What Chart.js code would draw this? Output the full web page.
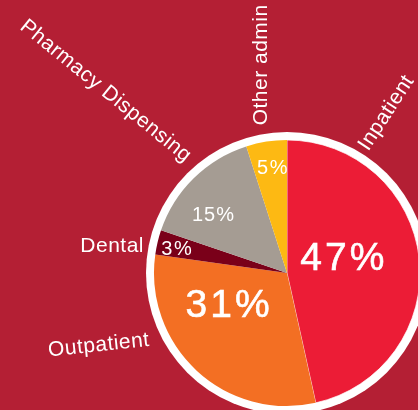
<!DOCTYPE html>
<html>
<head>
<meta charset="utf-8">
<script src="https://cdn.jsdelivr.net/npm/chart.js@4"></script>
<style>
  html, body { margin: 0; padding: 0; background: #b41f34; }
  #wrap { width: 418px; height: 410px; }
</style>
</head>
<body>
<div id="wrap"><canvas id="pieChart" width="418" height="410"></canvas></div>
<script>
const categories = ["Inpatient", "Outpatient", "Dental", "Pharmacy Dispensing", "Other admin"];
const shares = [47, 31, 3, 15, 5];
const sliceColors = ["#ec1c36", "#f36f23", "#7a0019", "#a59c93", "#fdb913"];

// where the texts sit: angle in degrees clockwise from top, radius in px from the centre
const pctPlace = [
  { angle: 76, r: 57, size: 39, spacing: 3, weight: 0.6 },
  { angle: 241, r: 68, size: 39, spacing: 3, weight: 0.6 },
  { angle: 282, r: 113, size: 20, spacing: 1.5, weight: 0 },
  { angle: 308, r: 94, size: 20, spacing: 1, weight: 0 },
  { angle: 352, r: 106, size: 20, spacing: 1.5, weight: 0 }
];
const namePlace = [
  { angle: 33.8, r: 146, rot: -57, align: "left" },
  { angle: 242, r: 155, rot: -6, align: "right" },
  { angle: 278.3, r: 144.5, rot: 0, align: "right" },
  { angle: 317.2, r: 150, rot: 39, align: "right" },
  { angle: 352.3, r: 149, rot: -90, align: "left" }
];

function polar(cx, cy, deg, r) {
  const a = (deg - 90) * Math.PI / 180;
  return [cx + r * Math.cos(a), cy + r * Math.sin(a)];
}

const ringPlugin = {
  id: "ring",
  beforeDatasetsDraw(chart) {
    const arc = chart.getDatasetMeta(0).data[0];
    const ctx = chart.ctx;
    ctx.save();
    ctx.fillStyle = "#ffffff";
    ctx.beginPath();
    ctx.arc(arc.x, arc.y, arc.outerRadius + 8, 0, Math.PI * 2);
    ctx.fill();
    ctx.restore();
  }
};

const textPlugin = {
  id: "texts",
  afterDatasetsDraw(chart) {
    const ctx = chart.ctx;
    const arcs = chart.getDatasetMeta(0).data;
    const cx = arcs[0].x, cy = arcs[0].y;
    ctx.save();
    ctx.fillStyle = "#ffffff";
    ctx.strokeStyle = "#ffffff";
    shares.forEach((v, i) => {
      const p = pctPlace[i];
      const [x, y] = polar(cx, cy, p.angle, p.r);
      ctx.font = p.size + "px 'Liberation Sans', Arial, sans-serif";
      ctx.letterSpacing = p.spacing + "px";
      ctx.textAlign = "center";
      ctx.textBaseline = "middle";
      ctx.fillText(v + "%", x + p.spacing / 2, y);
      if (p.weight > 0) {
        ctx.lineWidth = p.weight;
        ctx.strokeText(v + "%", x + p.spacing / 2, y);
      }
    });
    categories.forEach((name, i) => {
      const p = namePlace[i];
      const [x, y] = polar(cx, cy, p.angle, p.r);
      ctx.save();
      ctx.translate(x, y);
      ctx.rotate(p.rot * Math.PI / 180);
      ctx.font = "21px 'Liberation Sans', Arial, sans-serif";
      ctx.letterSpacing = "0.5px";
      ctx.textAlign = p.align;
      ctx.textBaseline = "alphabetic";
      ctx.fillText(name, 0, 0);
      ctx.restore();
    });
    ctx.restore();
  }
};

new Chart("pieChart", {
  type: "pie",
  data: {
    labels: categories,
    datasets: [{
      data: shares,
      backgroundColor: sliceColors,
      borderColor: "rgba(255,255,255,0.7)",
      borderWidth: [1, 0, 0, 0, 0],
      radius: 133,
      clip: false
    }]
  },
  options: {
    responsive: false,
    animation: false,
    layout: { padding: { left: 156, right: 0, top: 136, bottom: 0 } },
    plugins: {
      legend: { display: false },
      tooltip: { enabled: false }
    }
  },
  plugins: [ringPlugin, textPlugin]
});
</script>
</body>
</html>
